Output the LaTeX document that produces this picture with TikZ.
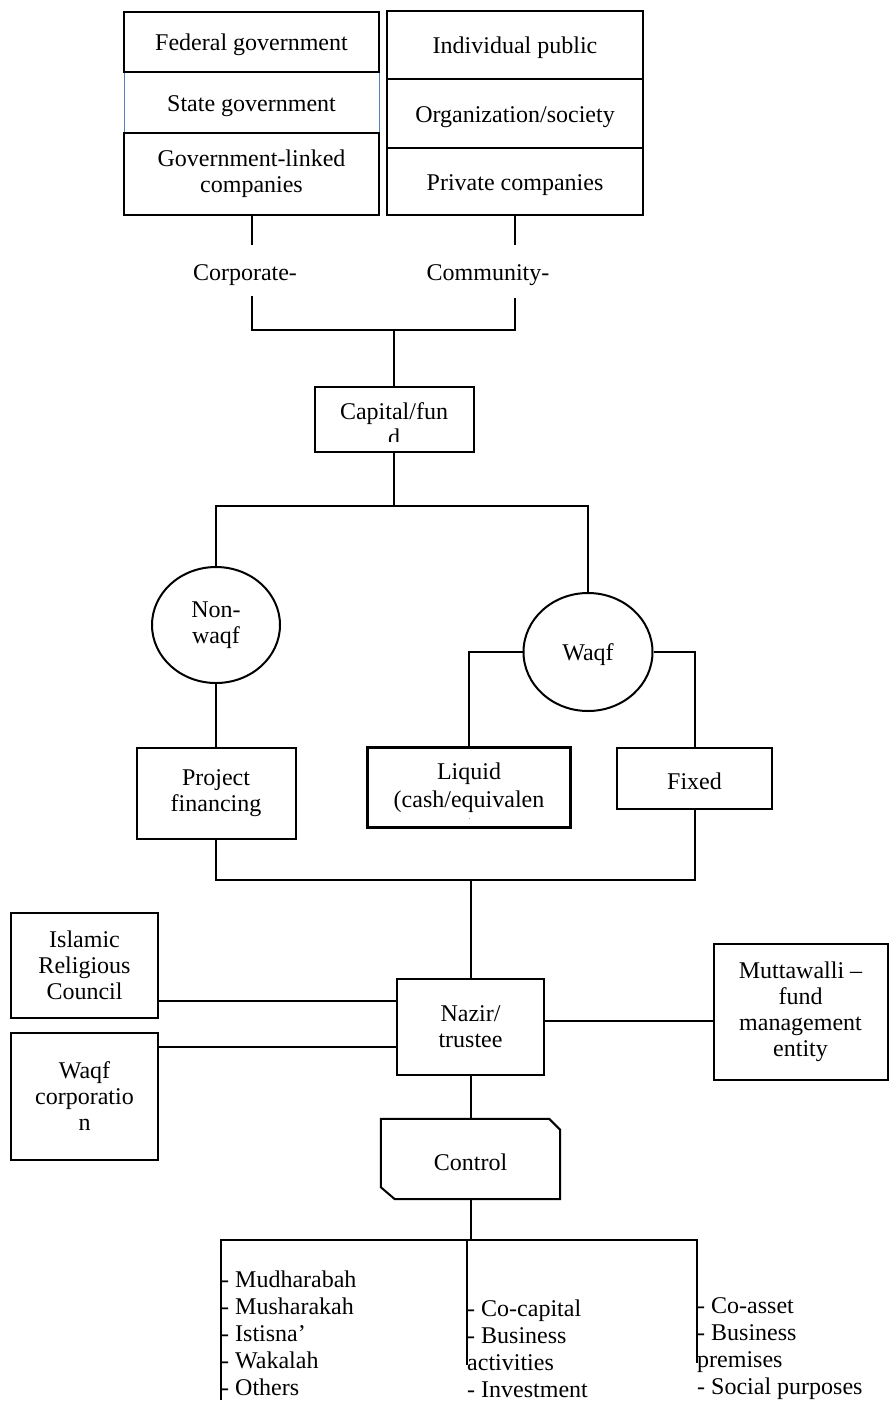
\documentclass[tikz,border=0pt]{standalone}
\usepackage{fontspec}
\setmainfont{Liberation Serif}
\usetikzlibrary{shapes.geometric}
\definecolor{stateblue}{HTML}{4F81BD}
\tikzset{
  ln/.style={line width=2pt},
  txt/.style={align=center, inner sep=0pt, font=\fontsize{24}{26}\selectfont,
    execute at begin node={\rule{0pt}{23pt}}},
  bx/.style={txt, draw, line width=2pt},
  oval/.style={txt, draw, line width=2pt, ellipse},
  listtext/.style={align=left, anchor=north west, inner sep=0pt, font=\fontsize{24}{27}\selectfont},
}
\begin{document}
\begin{tikzpicture}[x=1pt, y=-1pt]
\useasboundingbox[fill=white] (0,0) rectangle (889,1401);

% sources of capital
\node[bx, draw=stateblue, line width=0.9pt, minimum width=255, minimum height=61] (st) at (251.5,102.5) {State government};
\node[bx, minimum width=255, minimum height=60] (fed) at (251.5,42) {Federal government};
\node[bx, minimum width=255, minimum height=82] (glc) at (251.5,174) {Government-linked\\companies};
\node[bx, minimum width=256, minimum height=68] (ind) at (515,45) {Individual public};
\node[bx, minimum width=256, minimum height=69] (org) at (515,113.5) {Organization/society};
\node[bx, minimum width=256, minimum height=67] (pri) at (515,181.5) {Private companies};

\node[txt] (corp) at (245,272) {Corporate-};
\node[txt] (comm) at (488,272) {Community-};

\coordinate (ca) at (252,245);
\coordinate (cb) at (252,296);
\coordinate (ma) at (515,245);
\coordinate (mb) at (515,298);
\coordinate (j1) at (394,330);
\draw[ln] (glc.south -| ca) -- (ca);
\draw[ln] (pri.south) -- (ma);
\draw[ln] (cb) |- (j1) -| (mb);

% capital / fund
\node[bx, minimum width=159, minimum height=65] (cap) at (394,419.5) {};
\begin{scope}
  \clip ([yshift=12pt]cap.south west) rectangle (cap.north east);
  \node[txt] (captxt) at ([yshift=-5pt]cap.center) {Capital/fun\\d};
\end{scope}
\draw[ln] (j1) -- (cap.north);

% waqf / non-waqf
\node[oval, minimum width=128, minimum height=116, inner sep=0pt] (nw) at (216,625) {Non-\\waqf};
\node[oval, minimum width=129, minimum height=118, inner sep=0pt] (wq) at (588,652) {Waqf};
\coordinate (j2) at (394,506);
\draw[ln] (cap.south) -- (j2);
\draw[ln] (nw.north) |- (j2) -| (wq.north);

\node[bx, minimum width=159, minimum height=91] (proj) at (216,793.5) {Project\\financing};
\node[bx, minimum width=202, minimum height=79] (liq) at (469,787.5) {};
\begin{scope}
  \clip ([yshift=10pt]liq.south west) rectangle (liq.north east);
  \node[txt, font=\fontsize{24}{28}\selectfont] (liqtxt) at ([yshift=-14pt]liq.center) {Liquid\\(cash/equivalen\\t)};
\end{scope}
\draw[ln] (liq.north west) rectangle (liq.south east);
\node[bx, minimum width=155, minimum height=61] (fix) at (694.5,778.5) {Fixed};

\draw[ln] (nw.south) -- (proj.north);
\draw[ln] (wq.west) -| (liq.north);
\draw[ln] (wq.east) -| (fix.north);

% trustee and related bodies
\node[bx, minimum width=147, minimum height=96] (naz) at (470.5,1027) {Nazir/\\trustee};
\coordinate (j3) at (470.5,880);
\draw[ln] (proj.south) |- (j3) -| (fix.south);
\draw[ln] (j3) -- (naz.north);

\node[bx, minimum width=147, minimum height=105] (irc) at (84.5,965.5) {Islamic\\Religious\\Council};
\node[bx, minimum width=147, minimum height=127] (wc) at (84.5,1096.5) {Waqf\\corporatio\\n};
\node[bx, minimum width=174, minimum height=136] (mut) at (800.5,1012) {Muttawalli –\\fund\\management\\entity};

\draw[ln] (irc.east |- 0,1001) -- (naz.west |- 0,1001);
\draw[ln] (wc.east |- 0,1047) -- (naz.west |- 0,1047);
\draw[ln] (naz.east |- 0,1021) -- (mut.west |- 0,1021);

% control
\node[txt, minimum width=179, minimum height=80] (ctrl) at (470.5,1159) {Control};
\draw[ln] (ctrl.north west) -- ([xshift=-11pt]ctrl.north east) -- ([yshift=-11pt]ctrl.north east)
  -- (ctrl.south east) -- ([xshift=14pt]ctrl.south west) -- ([yshift=12pt]ctrl.south west) -- cycle;
\draw[ln] (naz.south) -- (ctrl.north);

% instruments
\node[listtext] (la) at (221,1271) {- Mudharabah\\- Musharakah\\- Istisna’\\- Wakalah\\- Others};
\node[listtext] (lb) at (467,1300) {- Co-capital\\- Business\\activities\\- Investment};
\node[listtext] (lc) at (697,1297) {- Co-asset\\- Business\\premises\\- Social purposes};

\coordinate (j4) at (470.5,1240);
\coordinate (ea) at (221,1400);
\coordinate (eb) at (467,1365);
\coordinate (ec) at (697,1363);
\draw[ln] (ctrl.south) -- (j4);
\draw[ln] (ea) |- (j4) -| (ec);
\draw[ln] (j4 -| eb) -- (eb);
\end{tikzpicture}
\end{document}
